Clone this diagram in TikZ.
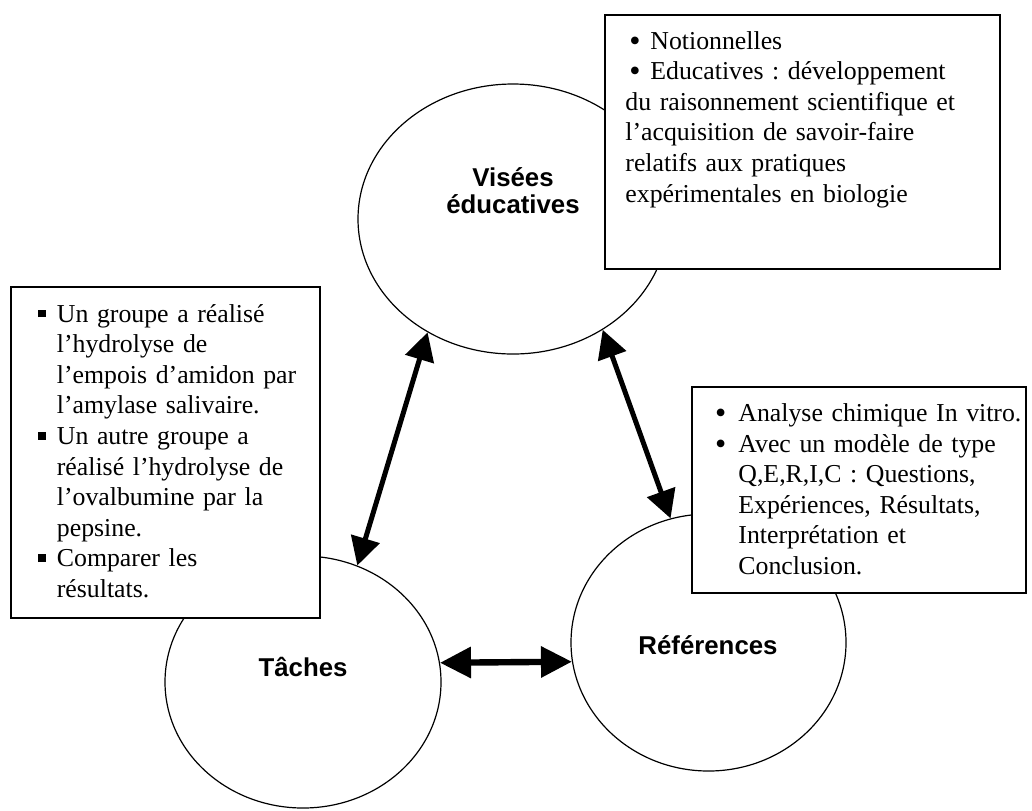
\documentclass[tikz,border=0pt]{standalone}
\usepackage{fontspec}
\setmainfont{Liberation Serif}
\setsansfont{Liberation Sans}
\usetikzlibrary{shapes.geometric,arrows.meta}

\newcommand{\rond}{\leavevmode\hspace*{2pt}\makebox[10.5pt][l]{\raisebox{-1pt}{\fontsize{16pt}{0pt}\selectfont •}}}
\newcommand{\carre}{\leavevmode\llap{\raisebox{2.4pt}{\rule{3.8pt}{3.8pt}}\hspace{5.5pt}}}
\newcommand{\point}{\leavevmode\llap{\raisebox{-1pt}{\fontsize{16pt}{0pt}\selectfont •}\hspace{6pt}}}

\begin{document}
\frenchspacing
\begin{tikzpicture}[x=0.5pt,y=-0.5pt,>={Triangle[length=14pt,width=14.5pt]}]

    \tikzstyle{bulle}=[draw=black,line width=0.6pt,ellipse,inner sep=0pt]
    \tikzstyle{cadre}=[draw=black,line width=1pt,fill=white,rectangle,inner sep=0pt]
    \tikzstyle{titre}=[font=\sffamily\bfseries\fontsize{12.9pt}{13.6pt}\selectfont,align=center,inner sep=0pt]
    \tikzstyle{texte}=[font=\fontsize{12.9pt}{15.3pt}\selectfont,text width=200pt,align=left,inner sep=0pt,anchor=base west]
    \tikzstyle{lien}=[<->,line width=2.5pt]

    \useasboundingbox (0,0) rectangle (1032,810);

    % les trois poles
    \node[bulle,minimum width=155pt,minimum height=135pt]     (vis) at (513,219)     {};
    \node[bulle,minimum width=138pt,minimum height=126pt]     (tac) at (303,682)     {};
    \node[bulle,minimum width=137.5pt,minimum height=128.5pt] (ref) at (708.5,642.5) {};

    \node[titre]             (visT) at (513,191) {Visées\\éducatives};
    \node[titre,anchor=base] (tacT) at (303,676) {Tâches};
    \node[titre,anchor=base] (refT) at (708,654) {Références};

    % les cadres
    \node[cadre,minimum width=197.5pt,minimum height=127pt]  (bvis) at (802.5,142) {};
    \node[cadre,minimum width=154.5pt,minimum height=165.5pt] (btac) at (165.5,452.5) {};
    \node[cadre,minimum width=167pt,minimum height=103pt]    (bref) at (859,490) {};

    \node[texte] (xvis) at (625,49)
        {\rond Notionnelles\\
         \rond Educatives : développement\\
         du raisonnement scientifique et\\
         l’acquisition de savoir-faire\\
         relatifs aux pratiques\\
         expérimentales en biologie};

    \node[texte] (xtac) at (56.5,322)
        {\carre Un groupe a réalisé\\
         l’hydrolyse de\\
         l’empois d’amidon par\\
         l’amylase salivaire.\\
         \carre Un autre groupe a\\
         réalisé l’hydrolyse de\\
         l’ovalbumine par la\\
         pepsine.\\
         \carre Comparer les\\
         résultats.};

    \node[texte] (xref) at (738,421.5)
        {\point Analyse chimique In vitro.\\
         \point Avec un modèle de type\\
         Q,E,R,I,C : Questions,\\
         Expériences, Résultats,\\
         Interprétation et\\
         Conclusion.};

    \path
    (vis.233) edge[lien] (tac.65)
    (vis.309) edge[lien] (ref.107)
    (tac.8)   edge[lien,line width=3.2pt,{Triangle[length=15.5pt,width=15pt]}-{Triangle[length=15.5pt,width=15pt]}] (ref.188.5);

\end{tikzpicture}
\end{document}
